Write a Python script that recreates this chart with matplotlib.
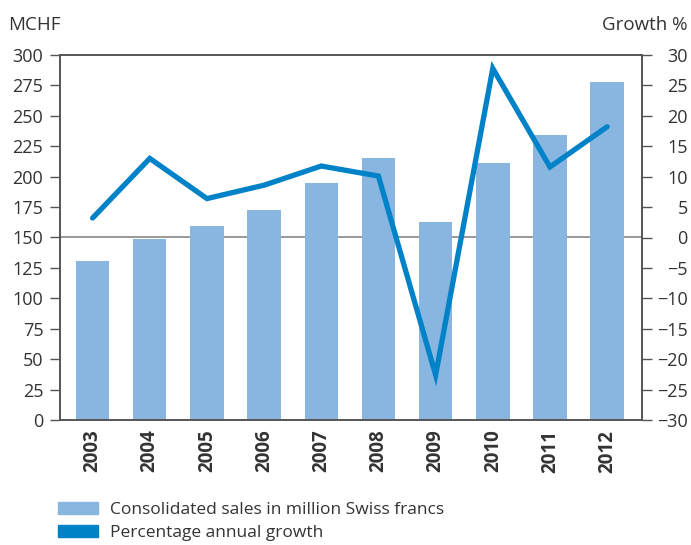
import numpy as np
import matplotlib
matplotlib.use('Agg')
import matplotlib.pyplot as plt
from matplotlib.patches import Patch

# Daten
years = ["2003", "2004", "2005", "2006", "2007", "2008", "2009", "2010", "2011", "2012"]
sales = [130.7, 148.8, 159.5, 172.6, 194.8, 215.3, 162.7, 211.2, 234.2, 277.8]   # MCHF
growth = [3.2, 13.0, 6.4, 8.6, 11.75, 10.1, -22.6, 27.8, 11.6, 18.2]            # %

bar_color = "#88b6e0"
line_color = "#0082c8"
text_color = "#333333"
fsize = 13

plt.rcParams['font.family'] = ['Open Sans', 'DejaVu Sans']

fig = plt.figure(figsize=(6.91, 5.45), dpi=100)
ax = fig.add_axes([60/691, 1-420/545, 582/691, 365/545])
ax2 = ax.twinx()

x = np.arange(len(years))
ax.bar(x, sales, width=0.585, color=bar_color, zorder=2)
ax.axhline(150, color="#888888", lw=1.2, zorder=1)
ax2.plot(x, growth, color=line_color, lw=3.8, solid_capstyle='round',
         solid_joinstyle='miter', zorder=3)

ax.set_xlim(-0.57, 9.61)
ax.set_ylim(0, 300)
ax2.set_ylim(-30, 30)
ax.set_yticks(np.arange(0, 301, 25))
ax2.set_yticks(np.arange(-30, 31, 5))
ax2.set_yticklabels([str(v).replace("-", "\u2212") for v in range(-30, 31, 5)],
                    ha='right')

ax.set_xticks(x)
ax.set_xticklabels(years, rotation=90, fontweight='bold', fontsize=13.5, color=text_color)
ax.tick_params(axis='x', length=0, pad=7)
ax.tick_params(axis='y', length=7, width=1, color="#555555", labelsize=fsize,
               labelcolor=text_color, pad=5)
ax2.tick_params(axis='y', length=7, width=1, color="#555555", labelsize=fsize,
                labelcolor=text_color, pad=26)

for a in (ax, ax2):
    for s in a.spines.values():
        s.set_color("#555555")
        s.set_linewidth(1.2)
ax2.set_zorder(ax.get_zorder() + 1)
ax2.patch.set_visible(False)

fig.text(8/691, 1-25/545, "MCHF", fontsize=13.5, color=text_color, va='center', ha='left')
fig.text(688/691, 1-25/545, "Growth %", fontsize=13.5, color=text_color, va='center', ha='right')

handles = [Patch(color=bar_color), Patch(color=line_color)]
labels = ["Consolidated sales in million Swiss francs", "Percentage annual growth"]
leg = fig.legend(handles, labels, loc='upper left', bbox_to_anchor=(58/691, 1-502/545),
                 frameon=False, fontsize=12.5, handlelength=2.3, handleheight=0.65,
                 handletextpad=0.69, labelspacing=0.42, borderaxespad=0, borderpad=0)
for t in leg.get_texts():
    t.set_color(text_color)

fig.savefig("out.png", dpi=100)
